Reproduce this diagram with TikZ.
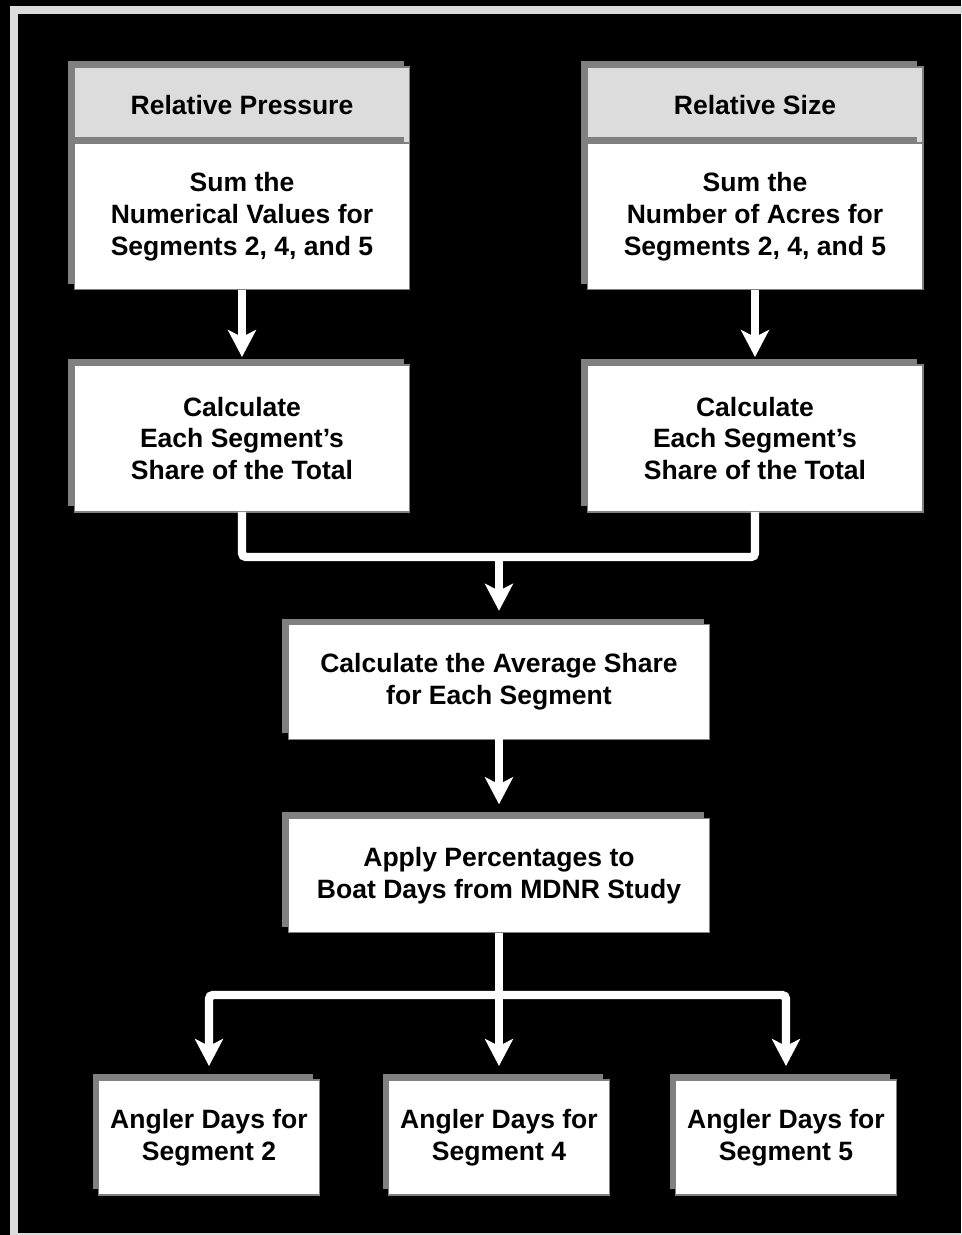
\documentclass[tikz,border=0pt]{standalone}
\usepackage{fontspec}
\setmainfont{Liberation Sans}
\usetikzlibrary{arrows.meta, positioning, shadows}

\definecolor{framegray}{HTML}{DCDCDC}
\definecolor{hdrgray}{HTML}{DCDCDC}
\definecolor{edgegray}{HTML}{808080}

\begin{document}
\begin{tikzpicture}[
  x=0.02cm, y=-0.02cm,
  box/.style={rectangle, draw=edgegray, line width=0.6pt, fill=white,
              inner sep=0pt, outer sep=0pt, align=center,
              font=\fontsize{15.1}{18.2}\selectfont\bfseries,
              drop shadow={shadow xshift=-0.12cm, shadow yshift=0.12cm,
                           fill=edgegray, opacity=1}},
  header/.style={box, fill=hdrgray, minimum width=6.72cm, minimum height=1.52cm},
  stepbox/.style={box, minimum width=6.72cm, minimum height=2.94cm},
  widebox/.style={box, minimum width=8.44cm, minimum height=2.29cm},
  endbox/.style={box, minimum width=4.42cm, minimum height=2.30cm},
  link/.style={draw=white, line width=4.8pt, rounded corners=0.08cm},
  flow/.style={link, -{Stealth[length=0.54cm, width=0.56cm, inset=0.14cm]}, shorten >=0.28cm}
]
  \useasboundingbox (0,0) rectangle (961,1235);
  \fill[black] (0,0) rectangle (961,1235);
  \draw[framegray, line width=0.16cm] (14,10) rectangle (980,1237);

  % two input columns
  \node[header] (pressure) at (242,105) {Relative Pressure};
  \node[stepbox, below=0pt of pressure] (pressum) {Sum the\\Numerical Values for\\Segments 2, 4, and 5};
  \node[header] (size) at (755,105) {Relative Size};
  \node[stepbox, below=0pt of size] (sizesum) {Sum the\\Number of Acres for\\Segments 2, 4, and 5};

  \node[stepbox] (prescalc) at (242,438.5) {Calculate\\Each Segment’s\\Share of the Total};
  \node[stepbox] (sizecalc) at (755,438.5) {Calculate\\Each Segment’s\\Share of the Total};

  % combined steps
  \node[widebox] (average) at (499,682) {Calculate the Average Share\\for Each Segment};
  \node[widebox] (apply) at (499,875.5) {Apply Percentages to\\Boat Days from MDNR Study};

  % results
  \node[endbox] (seg2) at (209,1137.5) {Angler Days for\\Segment 2};
  \node[endbox] (seg4) at (499,1137.5) {Angler Days for\\Segment 4};
  \node[endbox] (seg5) at (786,1137.5) {Angler Days for\\Segment 5};

  \coordinate (merge) at (499,557);
  \coordinate (split) at (499,995);

  \draw[flow, shorten >=0.16cm] (pressum) -- (prescalc);
  \draw[flow, shorten >=0.16cm] (sizesum) -- (sizecalc);
  \draw[link] (prescalc.south) |- (merge) -| (sizecalc.south);
  \draw[flow] (merge) -- (average);
  \draw[flow] (average) -- (apply);
  \draw[link] (apply.south) -- (split);
  \draw[flow] (split) -| (seg2.north);
  \draw[flow] (apply) -- (seg4);
  \draw[flow] (split) -| (seg5.north);
\end{tikzpicture}
\end{document}
